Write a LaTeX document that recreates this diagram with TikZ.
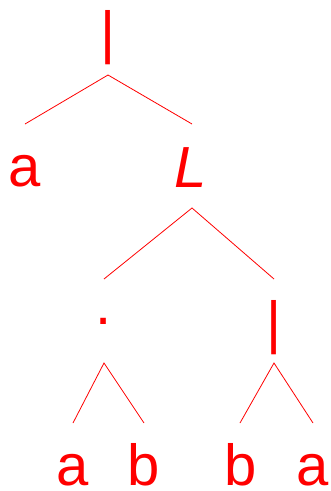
\documentclass[tikz,border=0pt]{standalone}
\usepackage{fontspec}
\setmainfont{Liberation Sans}
\begin{document}
\begin{tikzpicture}[x=1pt,y=-1pt,
  lbl/.style={anchor=base,inner sep=0pt,text=red,font=\fontsize{58}{58}\selectfont},
  edge/.style={draw=red,line width=0.8pt}]
\useasboundingbox (0,0) rectangle (331,491);
% nodes
\node[lbl] (root) at (108.5,52) {|};
\node[lbl] (a1) at (25,186) {a};
\node[lbl] (L) at (191,187) {\itshape L};
\node[lbl] (dot) at (104,324) {.};
\node[lbl] (bar) at (274.5,342) {|};
\node[lbl] (a2) at (73,485) {a};
\node[lbl] (b1) at (143.5,485) {b};
\node[lbl] (b2) at (240.5,485) {b};
\node[lbl] (a3) at (312.5,485) {a};
% connector end points
\coordinate (rootT) at (108,75);
\coordinate (a1T) at (25,124);
\coordinate (LH) at (192,124);
\coordinate (LT) at (192,208);
\coordinate (dotH) at (104,279);
\coordinate (barH) at (274,279);
\coordinate (dotT) at (104,363);
\coordinate (barT) at (274,363);
\coordinate (a2H) at (73,423);
\coordinate (b1H) at (144,423);
\coordinate (b2H) at (240,423);
\coordinate (a3H) at (313,423);
% connectors
\draw[edge] (a1T) -- (rootT) -- (LH);
\draw[edge] (dotH) -- (LT) -- (barH);
\draw[edge] (a2H) -- (dotT) -- (b1H);
\draw[edge] (b2H) -- (barT) -- (a3H);
\end{tikzpicture}
\end{document}
